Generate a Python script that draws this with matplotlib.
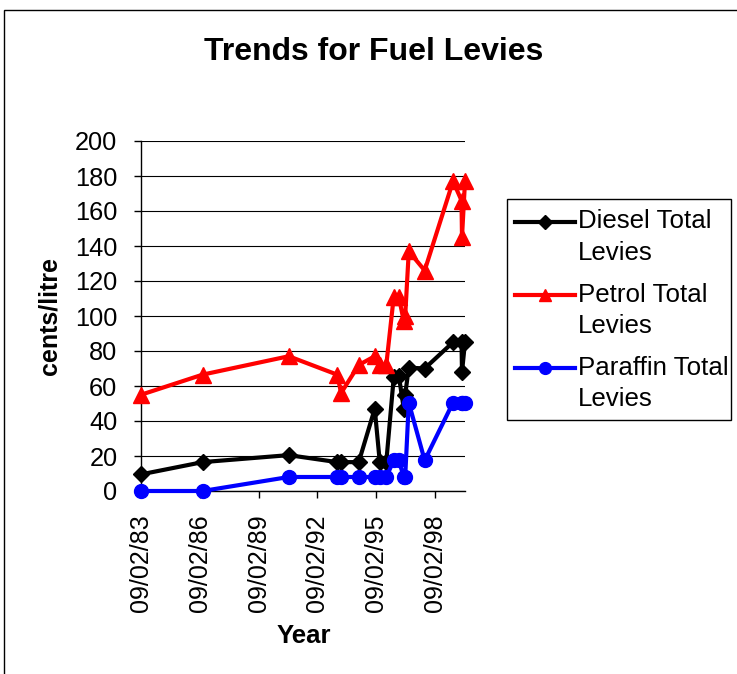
import matplotlib
matplotlib.use("Agg")
import matplotlib.pyplot as plt
import matplotlib.dates as mdates
from matplotlib.lines import Line2D
from matplotlib.patches import Rectangle
import datetime as dt

# ---- data ----
dates = ["1983-02-09", "1986-04-02", "1990-08-22", "1993-02-09", "1993-04-24",
         "1994-03-18", "1995-01-10", "1995-04-14", "1995-08-13", "1995-12-30",
         "1996-04-02", "1996-07-04", "1996-07-30", "1996-10-05", "1997-07-28",
         "1999-01-07", "1999-06-14", "1999-06-23", "1999-08-18"]
diesel = [9.5, 16.5, 20.5, 16.5, 16.5, 16.5, 47, 16.5, 16.5, 65, 66, 47, 55,
          70.5, 70, 85, 85, 68, 85]
petrol = [55, 66.5, 77, 66.5, 56, 72, 77, 72, 72, 111, 111, 97, 100, 137, 126,
          177, 166, 145, 177]
paraffin = [0, 0, 8, 8, 8, 8, 8, 8, 8, 17.5, 17.5, 8, 8, 50.5, 17.5, 50.5,
            50.5, 50.5, 50.5]
series_names = ["Diesel Total\nLevies", "Petrol Total\nLevies", "Paraffin Total\nLevies"]
tick_dates = ["1983-02-09", "1986-02-09", "1989-02-09", "1992-02-09",
              "1995-02-09", "1998-02-09"]
y_ticks = [0, 20, 40, 60, 80, 100, 120, 140, 160, 180, 200]

plt.rcParams['font.family'] = ['Liberation Sans', 'DejaVu Sans']

W, H = 737, 674
fig = plt.figure(figsize=(W / 100, H / 100), dpi=100)


def fx(x):
    return x / W


def fy(y):
    return 1 - y / H


# chart-area border
fig.add_artist(Rectangle((fx(4), fy(700)), fx(800), fy(10) - fy(700),
                         transform=fig.transFigure, fill=False,
                         edgecolor='black', linewidth=1.0))

ax_l, ax_r, ax_t, ax_b = 141, 465, 141, 491
ax = fig.add_axes([fx(ax_l), fy(ax_b), fx(ax_r) - fx(ax_l), fy(ax_t) - fy(ax_b)])

d = [dt.datetime.strptime(s, "%Y-%m-%d") for s in dates]
styles = [(diesel, 'black', 'D', 8.6), (petrol, 'red', '^', 11), (paraffin, 'blue', 'o', 10)]
for vals, col, mk, ms in styles:
    ax.plot(d, vals, color=col, marker=mk, markersize=ms, linewidth=3.0,
            markeredgecolor=col, markerfacecolor=col, clip_on=False, zorder=3)

ax.set_xlim(d[0], d[-1])
ax.set_ylim(0, 200)
ax.set_yticks(y_ticks)
ax.yaxis.grid(True, color='black', linewidth=0.8)
ax.set_axisbelow(True)
td = [dt.datetime.strptime(s, "%Y-%m-%d") for s in tick_dates]
ax.set_xticks(td)
ax.xaxis.set_major_formatter(mdates.DateFormatter('%d/%m/%y'))
for lab in ax.get_xticklabels():
    lab.set_rotation(90)
ax.tick_params(axis='x', length=5, width=1, pad=12, labelsize=18, direction='out')
ax.tick_params(axis='y', length=5, width=1, pad=12, labelsize=18.3, direction='out')
for s in ['top', 'right']:
    ax.spines[s].set_visible(False)
for s in ['left', 'bottom']:
    ax.spines[s].set_linewidth(1.0)

fig.text(fx(374), fy(52), "Trends for Fuel Levies", fontsize=23, fontweight='bold',
         ha='center', va='center')
fig.text(fx(50), fy(316), "cents/litre", fontsize=18, fontweight='bold',
         rotation=90, ha='center', va='center')
fig.text(fx(304), fy(636), "Year", fontsize=18.5, fontweight='bold',
         ha='center', va='center')

# legend
fig.add_artist(Rectangle((fx(507), fy(420)), fx(731) - fx(507), fy(199) - fy(420),
                         transform=fig.transFigure, fill=True, facecolor='white',
                         edgecolor='black', linewidth=1.0))
leg_y = [221.5, 295, 368]
for (vals, col, mk, ms), name, yy in zip(styles, series_names, leg_y):
    fig.add_artist(Line2D([fx(515), fx(575)], [fy(yy), fy(yy)], transform=fig.transFigure,
                          color=col, linewidth=3.0))
    fig.add_artist(Line2D([fx(545)], [fy(yy)], transform=fig.transFigure,
                          color=col, marker=mk, markersize=ms * 0.85, linestyle='none'))
    l1, l2 = name.split("\n")
    fig.text(fx(578), fy(yy), l1, fontsize=18.6, ha='left', va='center')
    fig.text(fx(578), fy(yy + 31), l2, fontsize=18.6, ha='left', va='center')

fig.savefig("out.png", dpi=100)
